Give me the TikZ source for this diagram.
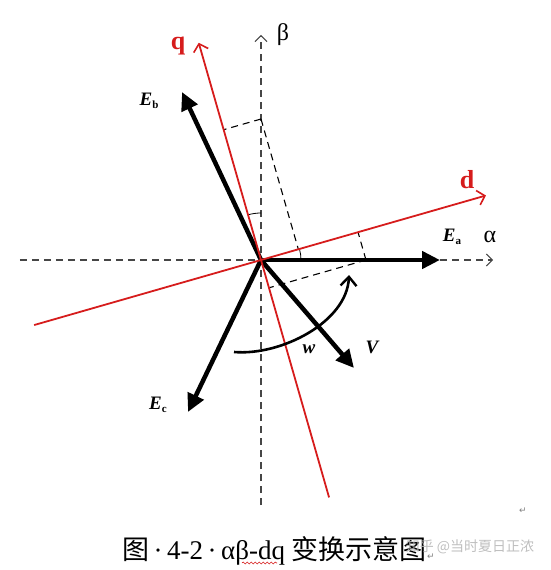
\documentclass[tikz,border=0pt]{standalone}
\usepackage{fontspec}
\setmainfont{Liberation Serif}
\newfontfamily\cjk{Noto Sans CJK SC}
\newfontfamily\dv{DejaVu Sans}
\usetikzlibrary{arrows.meta,calc,decorations.pathmorphing}
\definecolor{myred}{RGB}{214,28,28}
\definecolor{axisgray}{RGB}{70,70,70}
\begin{document}
\begin{tikzpicture}[x=1pt,y=1pt,
  axisline/.style={axisgray, line width=1.1pt, dash pattern=on 7pt off 5pt,
    -{Straight Barb[length=6pt,width=12pt,line width=1pt]}},
  refline/.style={myred, line width=1.8pt,
    -{Straight Barb[length=7pt,width=15pt,line width=1.6pt]}},
  vec/.style={black, line width=4.5pt, -{Triangle[length=18pt,width=17pt]}},
  proj/.style={black, line width=1.1pt, dash pattern=on 7pt off 5pt},
  redlbl/.style={myred, font=\fontsize{26}{26}\selectfont\bfseries},
  grklbl/.style={black, font=\fontsize{24}{24}\selectfont},
  elbl/.style={black, font=\fontsize{19}{19}\selectfont\bfseries\itshape},
]
\useasboundingbox (-261,-310) rectangle (290,260);
\coordinate (O) at (0,0);
% axes
\coordinate (al0) at (-241,0);
\coordinate (al1) at (232,0);
\coordinate (be0) at (0,-245);
\coordinate (be1) at (0,225);
\draw[axisline] (al0) -- (al1);
\draw[axisline] (be0) -- (be1);
\node[grklbl] (betalbl) at (22,225) {β};
\node[grklbl] (alphalbl) at (229,23) {α};
% d q ends
\coordinate (d0) at (196:236);
\coordinate (d1) at (16:234);
\coordinate (q0) at (-74:247);
\coordinate (q1) at (106:226);
% projection points
\coordinate (B) at (0,141);
\coordinate (A) at (105,0);
\draw[proj] (B) -- ($(O)!(B)!(q1)$);
\draw[proj] (B) -- ($(O)!(B)!(d1)$);
\draw[proj] (A) -- ($(O)!(A)!(d1)$);
\draw[proj] (A) -- ($(O)!(A)!(q0)$);
% small angle arcs
\draw[line width=0.8pt] (0,47) arc[start angle=90,end angle=106,radius=47];
\draw[line width=0.8pt] (40,0) arc[start angle=0,end angle=16,radius=40];
% vectors
\coordinate (Ea) at (179,0);
\coordinate (Eb) at (-79,168);
\coordinate (Ec) at (-73,-152);
\coordinate (V) at (93,-108);
\draw[vec] (O) -- (Ea);
\draw[vec] (O) -- (Eb);
\draw[vec] (O) -- (Ec);
\draw[vec] (O) -- (V);
% red dq
\draw[refline, -] (O) -- (d0);
\draw[refline] (O) -- (d1);
\draw[refline, -] (O) -- (q0);
\draw[refline] (O) -- (q1);
\node[redlbl] (qlbl) at (-83,214) {q};
\node[redlbl] (dlbl) at (206,80) {d};
% w arc
\coordinate (w0) at (-27,-92);
\coordinate (w1) at (88,-15);
\draw[line width=2.6pt, -{Straight Barb[length=9pt,width=16pt,line width=2.4pt]}]
  (w0) .. controls (20,-96) and (86,-62) .. (w1);
% labels
\node[elbl] (Eblbl) at (-112,159) {E\raisebox{-2.5pt}{\fontsize{11}{11}\selectfont\upshape b}};
\node[elbl] (Ealbl) at (191,23) {E\raisebox{-2.5pt}{\fontsize{11}{11}\selectfont\upshape a}};
\node[elbl] (Eclbl) at (-103,-145) {E\raisebox{-2.5pt}{\fontsize{11}{11}\selectfont\upshape c}};
\node[elbl] (Vlbl) at (111,-87) {V};
\node[elbl] (wlbl) at (48,-89) {w};
% caption
\node[anchor=base west, inner sep=0pt, font=\fontsize{27}{27}\selectfont] (cap) at (-139,-299)
  {{\cjk 图}\,·\,4-2\,·\,αβ-dq {\cjk 变换示意图}};
\node[anchor=base west, inner sep=0pt, font=\fontsize{9}{9}\selectfont\dv, gray] (ret1) at (cap.base east) {↵};
\node[inner sep=0pt, font=\fontsize{9}{9}\selectfont\dv, gray] (ret2) at (262,-251) {↵};
\draw[myred, line width=0.6pt, decorate, decoration={snake, amplitude=1pt, segment length=4pt}]
  (-19,-303) -- (16,-303);
\node[inner sep=0pt, font=\fontsize{14}{14}\selectfont\cjk, black!28, opacity=0.9] (wm) at (209,-287) {知乎 @当时夏日正浓};
\end{tikzpicture}
\end{document}
